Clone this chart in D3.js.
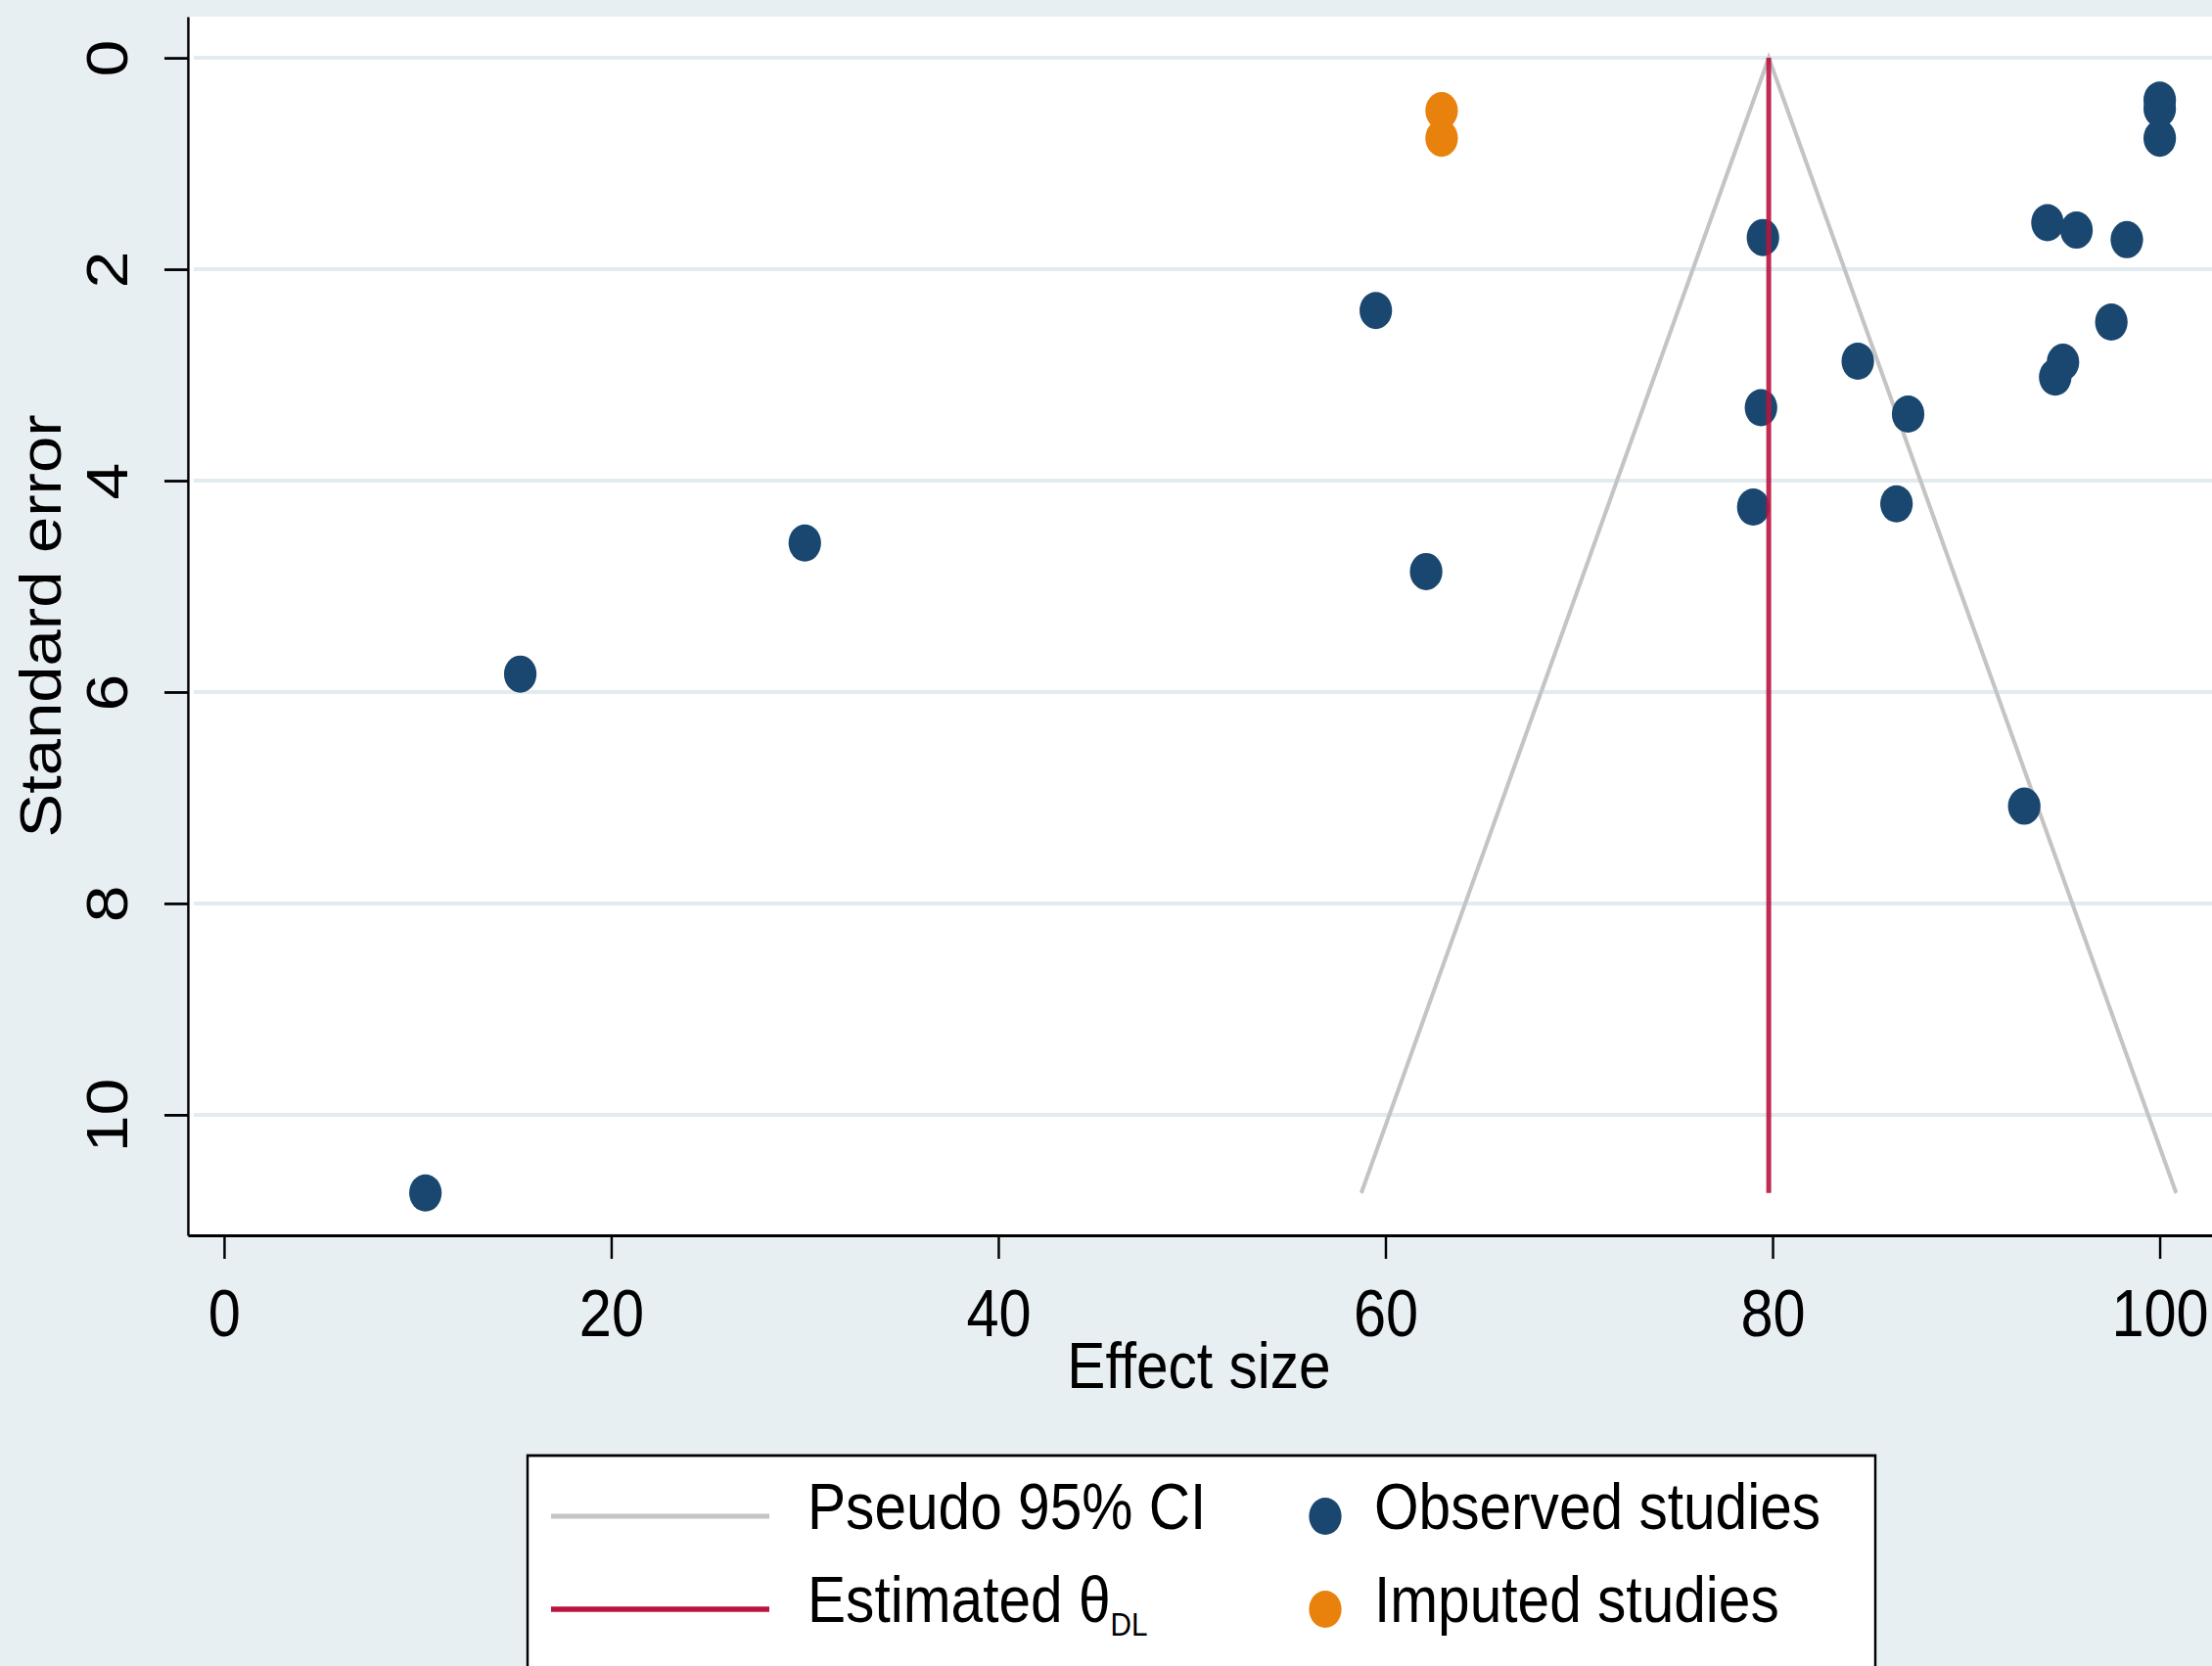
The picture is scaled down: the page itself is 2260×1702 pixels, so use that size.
<!DOCTYPE html>
<html>
<head>
<meta charset="utf-8">
<script src="https://cdn.jsdelivr.net/npm/d3@7"></script>
<style>
  body { margin: 0; background: #e8eff2; }
  svg text { font-family: "Liberation Sans", Arial, sans-serif; fill: #000; }
</style>
</head>
<body>
<script>
// funnel plot data (effect size, standard error)
var observedX  = [100, 100, 100, 79.5, 94.2, 95.7, 98.3, 59.5, 97.5, 84.4, 95.0, 94.6, 79.4, 87.0, 79.0, 86.4, 62.1, 30.0, 15.3, 93.0, 10.4];
var observedSE = [0.40, 0.48, 0.76, 1.70, 1.56, 1.63, 1.72, 2.39, 2.50, 2.87, 2.88, 3.02, 3.31, 3.37, 4.25, 4.22, 4.86, 4.59, 5.83, 7.08, 10.74];
var imputedX  = [62.9, 62.9];
var imputedSE = [0.50, 0.76];
var thetaDL = 79.8;

var xTicks = [0, 20, 40, 60, 80, 100];
var yTicks = [0, 2, 4, 6, 8, 10];

var legendLines = ["Pseudo 95% CI", "Estimated θ"];
var legendDots = ["Observed studies", "Imputed studies"];

var W = 2260, H = 1702;
var SQ = 0.875; // original picture is squeezed horizontally
var fs = 67;

var pLeft = 192, pRight = 2260, pTop = 17, pBottom = 1262;

var svg = d3.select("body").append("svg")
    .attr("width", W)
    .attr("height", H);

svg.append("rect").attr("width", W).attr("height", H).attr("fill", "#e8eff2");

var g = svg.append("g").attr("transform", "scale(" + SQ + ",1)");

var x = d3.scaleLinear().domain([-1.87, 102.7]).range([pLeft / SQ, pRight / SQ]);
var y = d3.scaleLinear().domain([-0.39, 11.14]).range([pTop, pBottom]);

// plot region
g.append("rect")
    .attr("x", pLeft / SQ).attr("y", pTop)
    .attr("width", (pRight - pLeft) / SQ).attr("height", pBottom - pTop)
    .attr("fill", "#fff");

// grid
g.append("g").selectAll("line")
    .data(yTicks)
    .enter().append("line")
    .attr("x1", (pLeft + 6) / SQ).attr("x2", pRight / SQ)
    .attr("y1", function(d) { return y(d); })
    .attr("y2", function(d) { return y(d); })
    .attr("stroke", "#e2ecf0")
    .attr("stroke-width", 4);

// pseudo 95% CI funnel
var seMax = d3.max(observedSE);
var funnel = [[thetaDL - 1.96 * seMax, seMax], [thetaDL, 0], [thetaDL + 1.96 * seMax, seMax]];
g.append("path")
    .datum(funnel)
    .attr("d", d3.line().x(function(d) { return x(d[0]); }).y(function(d) { return y(d[1]); }))
    .attr("fill", "none")
    .attr("stroke", "#c4c4c4")
    .attr("stroke-width", 4.6);

// points
var obs = observedX.map(function(v, i) { return [v, observedSE[i]]; });
var imp = imputedX.map(function(v, i) { return [v, imputedSE[i]]; });

g.append("g").selectAll("circle")
    .data(obs)
    .enter().append("circle")
    .attr("cx", function(d) { return x(d[0]); })
    .attr("cy", function(d) { return y(d[1]); })
    .attr("r", 19)
    .attr("fill", "#1a476f");

g.append("g").selectAll("circle")
    .data(imp)
    .enter().append("circle")
    .attr("cx", function(d) { return x(d[0]); })
    .attr("cy", function(d) { return y(d[1]); })
    .attr("r", 19)
    .attr("fill", "#e8820c");

// estimated theta line
g.append("line")
    .attr("x1", x(thetaDL)).attr("x2", x(thetaDL))
    .attr("y1", y(0)).attr("y2", y(seMax))
    .attr("stroke", "#b8143f")
    .attr("stroke-opacity", 0.9)
    .attr("stroke-width", 5 / SQ);

// x axis
var xAxis = g.append("g")
    .attr("transform", "translate(0," + pBottom + ")")
    .call(d3.axisBottom(x).tickValues(xTicks).tickSize(24).tickSizeOuter(0));
xAxis.select(".domain").attr("stroke", "#000").attr("stroke-width", 2.8);
xAxis.selectAll(".tick line").attr("stroke", "#000").attr("stroke-width", 2.8);
xAxis.selectAll(".tick text")
    .attr("y", 103).attr("dy", null)
    .style("font-size", "68px");

// y axis
var yAxis = g.append("g")
    .attr("transform", "translate(" + pLeft / SQ + ",0)")
    .call(d3.axisLeft(y).tickValues(yTicks).tickSize(24 / SQ).tickSizeOuter(0));
yAxis.select(".domain").attr("stroke", "#000").attr("stroke-width", 2.8);
yAxis.selectAll(".tick line").attr("stroke", "#000").attr("stroke-width", 2.8);
yAxis.selectAll(".tick text")
    .attr("x", null).attr("dy", null)
    .attr("text-anchor", "middle")
    .attr("transform", "translate(" + (130 - pLeft) / SQ + ",0) rotate(-90)")
    .style("font-size", "68px");

// axis titles
g.append("text")
    .attr("x", 1225 / SQ).attr("y", 1418)
    .attr("text-anchor", "middle")
    .style("font-size", fs + "px")
    .text("Effect size");

g.append("text")
    .attr("transform", "translate(" + 62 / SQ + "," + (pTop + pBottom) / 2 + ") rotate(-90)")
    .attr("text-anchor", "middle")
    .style("font-size", fs + "px")
    .text("Standard error");

// legend
var lg = g.append("g");
lg.append("rect")
    .attr("x", 539 / SQ).attr("y", 1487)
    .attr("width", (1916 - 539) / SQ).attr("height", 260)
    .attr("fill", "#fff")
    .attr("stroke", "#000")
    .attr("stroke-width", 2.8);

var rowY = [1549, 1644];
var baseY = [1562, 1657];

lg.append("line")
    .attr("x1", 563 / SQ).attr("x2", 786 / SQ)
    .attr("y1", rowY[0]).attr("y2", rowY[0])
    .attr("stroke", "#c4c4c4").attr("stroke-width", 5);
lg.append("line")
    .attr("x1", 563 / SQ).attr("x2", 786 / SQ)
    .attr("y1", rowY[1]).attr("y2", rowY[1])
    .attr("stroke", "#b8143f").attr("stroke-width", 5.5);

lg.append("text")
    .attr("x", 825 / SQ).attr("y", baseY[0])
    .style("font-size", fs + "px")
    .text(legendLines[0]);
var est = lg.append("text")
    .attr("x", 825 / SQ).attr("y", baseY[1])
    .style("font-size", fs + "px")
    .text(legendLines[1]);
est.append("tspan")
    .attr("dy", 14)
    .style("font-size", "34px")
    .text("DL");

lg.append("circle").attr("cx", 1354 / SQ).attr("cy", rowY[0]).attr("r", 19).attr("fill", "#1a476f");
lg.append("circle").attr("cx", 1354 / SQ).attr("cy", rowY[1]).attr("r", 19).attr("fill", "#e8820c");

lg.selectAll("text.dot")
    .data(legendDots)
    .enter().append("text")
    .attr("class", "dot")
    .attr("x", 1404 / SQ)
    .attr("y", function(d, i) { return baseY[i]; })
    .style("font-size", fs + "px")
    .text(function(d) { return d; });
</script>
</body>
</html>
